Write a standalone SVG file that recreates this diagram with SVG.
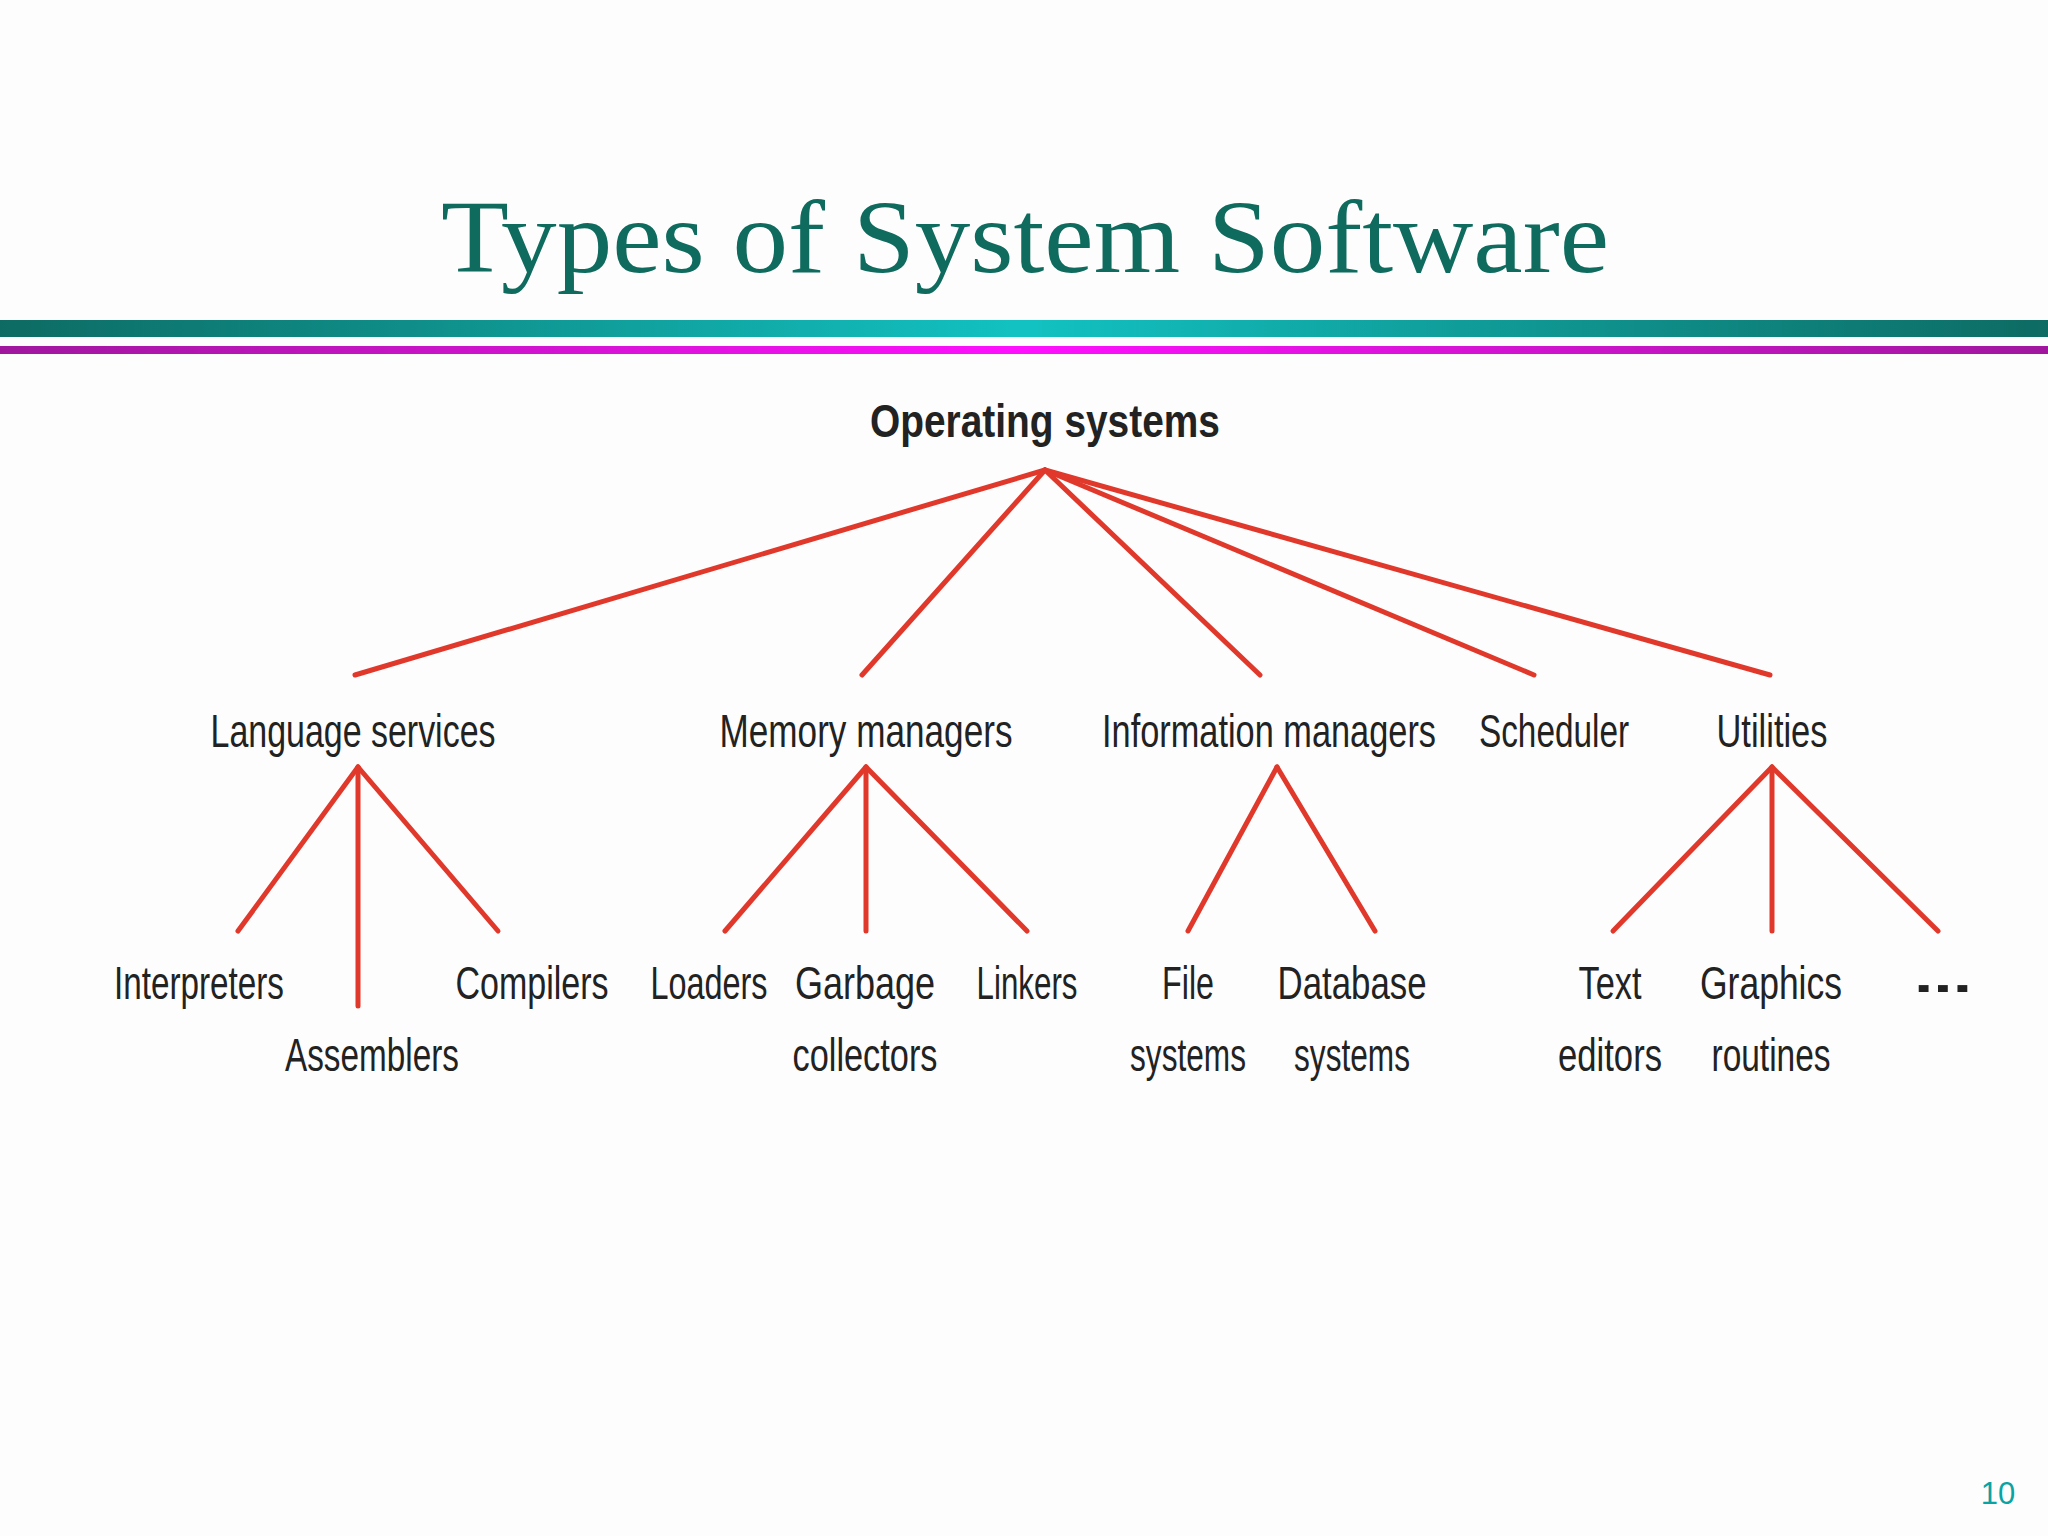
<svg xmlns="http://www.w3.org/2000/svg" width="2048" height="1536" viewBox="0 0 2048 1536">
<defs>
<linearGradient id="band" x1="0" x2="1" y1="0" y2="0">
<stop offset="0" stop-color="#0d6b63"/><stop offset="0.5" stop-color="#12c2c2"/><stop offset="1" stop-color="#0d6b63"/>
</linearGradient>
<linearGradient id="mag" x1="0" x2="1" y1="0" y2="0">
<stop offset="0" stop-color="#a0179e"/><stop offset="0.5" stop-color="#ff10ff"/><stop offset="1" stop-color="#a0179e"/>
</linearGradient>
</defs>
<style>
.t{font-family:"Liberation Sans Narrow","Liberation Sans",sans-serif;font-stretch:condensed;font-size:46px;fill:#222;text-anchor:middle}
.e line{stroke:#e0392b;stroke-width:5;stroke-linecap:round}
</style>
<rect width="2048" height="1536" fill="#fdfdfd"/>
<text x="1025" y="272" font-family="'Liberation Serif',serif" font-size="104" fill="#0e6b5e" text-anchor="middle" textLength="1168" lengthAdjust="spacingAndGlyphs">Types of System Software</text>
<rect x="0" y="320" width="2048" height="17" fill="url(#band)"/>
<rect x="0" y="346" width="2048" height="8" fill="url(#mag)"/>
<g class="e" id="connectors">
<line x1="1045" y1="470" x2="355" y2="675"/><line x1="1045" y1="470" x2="862" y2="675"/><line x1="1045" y1="470" x2="1260" y2="675"/><line x1="1045" y1="470" x2="1534" y2="675"/><line x1="1045" y1="470" x2="1770" y2="675"/>
<line x1="358" y1="767" x2="238" y2="931"/><line x1="358" y1="767" x2="358" y2="1006"/><line x1="358" y1="767" x2="498" y2="931"/>
<line x1="866" y1="767" x2="725" y2="931"/><line x1="866" y1="767" x2="866" y2="931"/><line x1="866" y1="767" x2="1027" y2="931"/>
<line x1="1277" y1="767" x2="1188" y2="931"/><line x1="1277" y1="767" x2="1375" y2="931"/>
<line x1="1772" y1="767" x2="1613" y2="931"/><line x1="1772" y1="767" x2="1772" y2="931"/><line x1="1772" y1="767" x2="1938" y2="931"/>
</g>
<g id="root"><text class="t" x="1045" y="437" font-size="50" font-weight="bold" textLength="350" lengthAdjust="spacingAndGlyphs">Operating systems</text></g>
<g id="lang"><text class="t" x="353" y="747" textLength="285" lengthAdjust="spacingAndGlyphs">Language services</text></g>
<g id="mem"><text class="t" x="866" y="747" textLength="293" lengthAdjust="spacingAndGlyphs">Memory managers</text></g>
<g id="info"><text class="t" x="1269" y="747" textLength="334" lengthAdjust="spacingAndGlyphs">Information managers</text></g>
<g id="sched"><text class="t" x="1554" y="747" textLength="150" lengthAdjust="spacingAndGlyphs">Scheduler</text></g>
<g id="util"><text class="t" x="1772" y="747" textLength="111" lengthAdjust="spacingAndGlyphs">Utilities</text></g>
<g id="interp"><text class="t" x="199" y="999" textLength="170" lengthAdjust="spacingAndGlyphs">Interpreters</text></g>
<g id="asm"><text class="t" x="372" y="1071" textLength="174" lengthAdjust="spacingAndGlyphs">Assemblers</text></g>
<g id="comp"><text class="t" x="532" y="999" textLength="153" lengthAdjust="spacingAndGlyphs">Compilers</text></g>
<g id="load"><text class="t" x="709" y="999" textLength="117" lengthAdjust="spacingAndGlyphs">Loaders</text></g>
<g id="gc"><text class="t" x="865" y="999" textLength="140" lengthAdjust="spacingAndGlyphs">Garbage</text><text class="t" x="865" y="1071" textLength="145" lengthAdjust="spacingAndGlyphs">collectors</text></g>
<g id="link"><text class="t" x="1027" y="999" textLength="101" lengthAdjust="spacingAndGlyphs">Linkers</text></g>
<g id="fs"><text class="t" x="1188" y="999" textLength="52" lengthAdjust="spacingAndGlyphs">File</text><text class="t" x="1188" y="1071" textLength="116" lengthAdjust="spacingAndGlyphs">systems</text></g>
<g id="db"><text class="t" x="1352" y="999" textLength="149" lengthAdjust="spacingAndGlyphs">Database</text><text class="t" x="1352" y="1071" textLength="116" lengthAdjust="spacingAndGlyphs">systems</text></g>
<g id="te"><text class="t" x="1610" y="999" textLength="63" lengthAdjust="spacingAndGlyphs">Text</text><text class="t" x="1610" y="1071" textLength="104" lengthAdjust="spacingAndGlyphs">editors</text></g>
<g id="gr"><text class="t" x="1771" y="999" textLength="142" lengthAdjust="spacingAndGlyphs">Graphics</text><text class="t" x="1771" y="1071" textLength="119" lengthAdjust="spacingAndGlyphs">routines</text></g>
<g id="more"><text class="t" x="1943" y="992" font-weight="bold" textLength="58" lengthAdjust="spacingAndGlyphs">...</text></g>
<text x="1998" y="1504" font-family="'Liberation Sans',sans-serif" font-size="31" fill="#0aa3a3" text-anchor="middle">10</text>
</svg>
